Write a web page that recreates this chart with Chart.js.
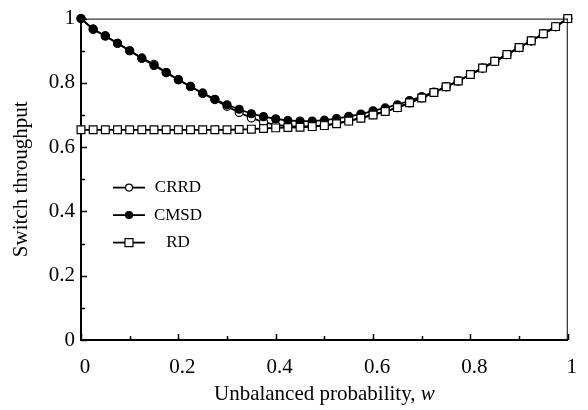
<!DOCTYPE html>
<html>
<head>
<meta charset="utf-8">
<script src="https://cdn.jsdelivr.net/npm/chart.js@4"></script>
<style>
  html, body { margin: 0; padding: 0; background: #fff; }
  #wrap { width: 588px; height: 410px; }
</style>
</head>
<body>
<div id="wrap"><canvas id="throughputChart" width="588" height="410"></canvas></div>
<script>
const ctx = document.getElementById('throughputChart').getContext('2d');

// unbalanced probability w, step 0.025
const probs = [0, 0.025, 0.05, 0.075, 0.1, 0.125, 0.15, 0.175, 0.2, 0.225, 0.25, 0.275, 0.3, 0.325, 0.35, 0.375,
  0.4, 0.425, 0.45, 0.475, 0.5, 0.525, 0.55, 0.575, 0.6, 0.625, 0.65, 0.675, 0.7, 0.725, 0.75, 0.775,
  0.8, 0.825, 0.85, 0.875, 0.9, 0.925, 0.95, 0.975, 1];

const crrd = [1.0, 0.967, 0.946, 0.923, 0.900, 0.877, 0.858, 0.832, 0.810, 0.789, 0.768, 0.748, 0.727, 0.708, 0.691, 0.678,
  0.669, 0.665, 0.664, 0.665, 0.668, 0.674, 0.682, 0.691, 0.701, 0.711, 0.723, 0.738, 0.753, 0.770, 0.788, 0.806,
  0.826, 0.846, 0.867, 0.888, 0.910, 0.931, 0.953, 0.975, 1.0];

const cmsd = [1.0, 0.967, 0.946, 0.923, 0.900, 0.877, 0.854, 0.832, 0.810, 0.789, 0.768, 0.749, 0.732, 0.718, 0.704, 0.695,
  0.688, 0.683, 0.681, 0.681, 0.684, 0.689, 0.696, 0.703, 0.713, 0.722, 0.732, 0.745, 0.757, 0.771, 0.788, 0.806,
  0.826, 0.846, 0.867, 0.888, 0.910, 0.931, 0.953, 0.975, 1.0];

const rd = [0.654, 0.654, 0.654, 0.654, 0.654, 0.654, 0.654, 0.654, 0.654, 0.654, 0.654, 0.654, 0.654, 0.655, 0.656, 0.658,
  0.660, 0.661, 0.662, 0.664, 0.667, 0.673, 0.681, 0.690, 0.700, 0.711, 0.723, 0.738, 0.753, 0.770, 0.788, 0.806,
  0.826, 0.846, 0.867, 0.888, 0.910, 0.931, 0.953, 0.975, 1.0];

const xTicks = [0, 0.2, 0.4, 0.6, 0.8, 1];
const yTicks = [0, 0.2, 0.4, 0.6, 0.8, 1];

const serif = "'Liberation Serif', 'Times New Roman', serif";

function toPoints(values) {
  return probs.map((w, i) => ({ x: w, y: values[i] }));
}

function series(label, values, style, fill, radius, order) {
  return {
    label: label,
    data: toPoints(values),
    borderColor: '#000',
    borderWidth: 1.8,
    pointStyle: style,
    pointRadius: radius,
    pointBackgroundColor: fill,
    pointBorderColor: '#000',
    pointBorderWidth: 1.2,
    tension: 0,
    clip: false,
    order: order
  };
}

// inward tick marks, top/right frame, legend and x title with italic w
const decorations = {
  id: 'decorations',
  afterDraw(chart) {
    const c = chart.ctx;
    const a = chart.chartArea;
    const xs = chart.scales.x, ys = chart.scales.y;
    c.save();
    c.strokeStyle = '#000';

    c.lineWidth = 1;
    c.beginPath();
    c.moveTo(a.left, a.top + 0.5); c.lineTo(a.right, a.top + 0.5);
    c.moveTo(a.right - 0.5, a.top); c.lineTo(a.right - 0.5, a.bottom);
    c.stroke();

    c.lineWidth = 1.5;
    for (let i = 0; i <= 10; i++) {
      const v = i / 10;
      const len = i % 2 === 0 ? 6 : 4;
      const px = Math.round(xs.getPixelForValue(v)) + 0.5;
      const py = Math.round(ys.getPixelForValue(v)) + 0.5;
      c.beginPath();
      c.moveTo(px, a.bottom); c.lineTo(px, a.bottom - len);
      c.moveTo(a.left, py); c.lineTo(a.left + len, py);
      c.stroke();
    }

    // legend
    c.font = '17px ' + serif;
    c.textAlign = 'center';
    c.textBaseline = 'middle';
    c.fillStyle = '#000';
    chart.data.datasets.forEach((ds, i) => {
      const y = a.top + 169 + i * 27.5;
      const x0 = a.left + 32, x1 = a.left + 64, xm = (x0 + x1) / 2;
      c.lineWidth = 1.8;
      c.beginPath();
      c.moveTo(x0, y); c.lineTo(x1, y);
      c.stroke();
      c.lineWidth = 1.2;
      c.fillStyle = ds.pointBackgroundColor;
      c.beginPath();
      if (ds.pointStyle === 'rect') {
        c.rect(xm - 4, y - 4, 8, 8);
      } else {
        c.arc(xm, y, 3.5, 0, Math.PI * 2);
      }
      c.fill();
      c.stroke();
      c.fillStyle = '#000';
      c.fillText(ds.label, a.left + 97, y);
    });

    // x axis title
    const t1 = 'Unbalanced probability, ';
    const t2 = 'w';
    c.font = '21px ' + serif;
    const w1 = c.measureText(t1).width;
    c.font = 'italic 21px ' + serif;
    const w2 = c.measureText(t2).width;
    const sx = (a.left + a.right) / 2 - (w1 + w2) / 2;
    c.textAlign = 'left';
    c.textBaseline = 'middle';
    c.font = '21px ' + serif;
    c.fillText(t1, sx, 394);
    c.font = 'italic 21px ' + serif;
    c.fillText(t2, sx + w1, 394);
    c.restore();
  }
};

const chart = new Chart(ctx, {
  type: 'line',
  data: {
    datasets: [
      series('CRRD', crrd, 'circle', '#fff', 4, 2),
      series('CMSD', cmsd, 'circle', '#000', 4, 1),
      series('RD', rd, 'rect', '#fff', 5.5, 0)
    ]
  },
  options: {
    responsive: false,
    animation: false,
    layout: { padding: { top: 6, right: 7, left: 0, bottom: 0 } },
    plugins: {
      legend: { display: false },
      tooltip: { enabled: false }
    },
    scales: {
      x: {
        type: 'linear',
        min: 0,
        max: 1,
        afterFit: s => { s.height = 70; },
        afterBuildTicks: s => { s.ticks = xTicks.map(v => ({ value: v })); },
        grid: { display: false, drawTicks: false },
        border: { display: true, color: '#000', width: 2 },
        ticks: {
          color: '#000',
          padding: 15,
          labelOffset: 4,
          maxRotation: 0,
          callback: v => String(v),
          font: { family: serif, size: 21 }
        }
      },
      y: {
        min: 0,
        max: 1,
        afterFit: s => { s.width = 81; },
        afterBuildTicks: s => { s.ticks = yTicks.map(v => ({ value: v })); },
        grid: { display: false, drawTicks: false },
        border: { display: true, color: '#000', width: 2 },
        ticks: {
          color: '#000',
          padding: 6,
          callback: v => String(v),
          font: { family: serif, size: 21 }
        },
        title: {
          display: true,
          text: 'Switch throughput',
          color: '#000',
          padding: { top: 9, bottom: 0 },
          font: { family: serif, size: 21 }
        }
      }
    }
  },
  plugins: [decorations]
});
</script>
</body>
</html>
